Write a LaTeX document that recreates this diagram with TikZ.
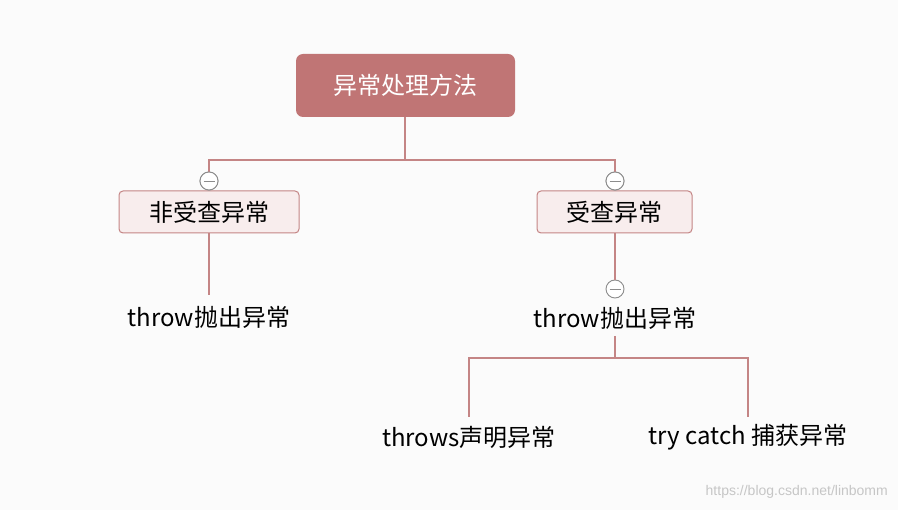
\documentclass[tikz,border=0pt]{standalone}
\usepackage{fontspec}
\setmainfont{Noto Sans CJK SC}
\newfontfamily\wmfont{Liberation Sans}
\definecolor{rootfill}{HTML}{C07575}
\definecolor{boxfill}{HTML}{F8EDED}
\definecolor{edgecol}{HTML}{C48585}
\definecolor{bgcol}{HTML}{FBFBFB}
\definecolor{circcol}{HTML}{8C8C8C}
\begin{document}
\begin{tikzpicture}[x=1pt,y=-1pt,
  conn/.style={draw=edgecol,line width=1.4pt},
  rootbox/.style={fill=rootfill,draw=none,rounded corners=7pt,minimum width=219pt,minimum height=63pt,text=white,font=\fontsize{24}{26}\selectfont,inner sep=0pt},
  subbox/.style={fill=boxfill,draw=edgecol,line width=1pt,rounded corners=4pt,minimum height=42pt,text=black,font=\fontsize{24}{26}\selectfont,inner sep=0pt},
  leaf/.style={text=black,font=\fontsize{24}{26}\selectfont,inner sep=0pt},
  toggle/.style={circle,draw=circcol,fill=white,line width=0.9pt,minimum size=18pt,inner sep=0pt,
    path picture={\draw[circcol,line width=0.9pt] ([xshift=-5.5pt]path picture bounding box.center) -- ([xshift=5.5pt]path picture bounding box.center);}}
]
\fill[bgcol] (0,0) rectangle (898,510);
\useasboundingbox (0,0) rectangle (898,510);

\node[rootbox] (root) at (405.5,85.5) {异常处理方法};
\node[subbox,minimum width=180pt] (unchk) at (209,212) {非受查异常};
\node[subbox,minimum width=155pt] (chk) at (614.5,212) {受查异常};
\node[toggle] (t1) at (209,181) {};
\node[toggle] (t2) at (615,181) {};
\node[leaf] (lthrow) at (209,317) {throw抛出异常};
\node[toggle] (t3) at (615,289) {};
\node[leaf] (rthrow) at (615,318) {throw抛出异常};
\node[leaf] (throws) at (469,437) {throws声明异常};
\node[leaf] (catch) at (748,437) {try catch 捕获异常};
\node[text=gray!45,font=\wmfont\fontsize{14}{16}\selectfont,anchor=east,inner sep=0pt] (wm) at (888,492) {https://blog.csdn.net/linbomm};

\coordinate (rb) at (405,117);
\coordinate (j1) at (405,160);
\coordinate (lj) at (209,160);
\coordinate (rj) at (615,160);
\coordinate (lend) at (209,295);
\coordinate (rs) at (615,336);
\coordinate (j2) at (615,358);
\coordinate (aj) at (469,358);
\coordinate (bj) at (748,358);
\coordinate (aend) at (469,417);
\coordinate (bend) at (748,417);

\draw[conn] (rb) -- (j1);
\draw[conn] (t1.north) -- (lj) -- (rj) -- (t2.north);
\draw[conn] (unchk.south) -- (lend);
\draw[conn] (chk.south -| t3) -- (t3.north);
\draw[conn] (rs) -- (j2);
\draw[conn] (aend) -- (aj) -- (bj) -- (bend);
\node[toggle] at (t1) {};
\node[toggle] at (t2) {};
\end{tikzpicture}
\end{document}
